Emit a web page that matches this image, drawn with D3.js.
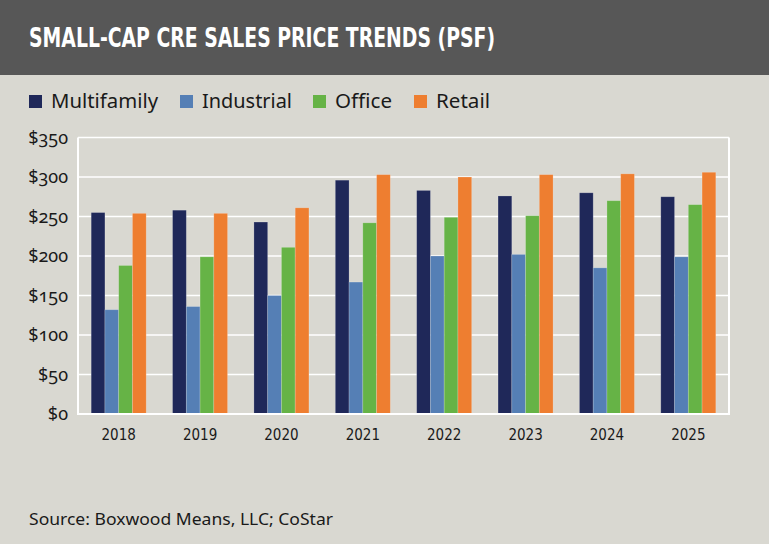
<!DOCTYPE html>
<html>
<head>
<meta charset="utf-8">
<script src="https://cdn.jsdelivr.net/npm/d3@7"></script>
<style>
  body { margin: 0; background: #d9d8d1; }
  svg { display: block; }
</style>
</head>
<body>
<script>
// ---- data ----
let years = ['2018', '2019', '2020', '2021', '2022', '2023', '2024', '2025'];
let seriesNames = ['Multifamily', 'Industrial', 'Office', 'Retail'];
let multifamily = [255, 258, 243, 296, 283, 276, 280, 275];
let industrial  = [132, 136, 150, 167, 200, 202, 185, 199];
let office      = [188, 199, 211, 242, 249, 251, 270, 265];
let retail      = [254, 254, 261, 303, 300, 303, 304, 306];
let yTicks = [0, 50, 100, 150, 200, 250, 300, 350];

let colors = ['#1f2859', '#557fb5', '#66b346', '#ee7e30'];

let w = 769;
let h = 544;

let svg = d3.select('body')
    .append('svg')
    .attr('width', w)
    .attr('height', h);

svg.append('rect')
    .attr('width', w)
    .attr('height', h)
    .attr('fill', '#d9d8d1');

// header band
svg.append('rect')
    .attr('width', w)
    .attr('height', 75)
    .attr('fill', '#575757');

svg.append('text')
    .text('SMALL-CAP CRE SALES PRICE TRENDS (PSF)')
    .attr('x', 29)
    .attr('y', 47)
    .attr('font-family', '"DejaVu Sans Condensed", "DejaVu Sans", sans-serif')
    .attr('font-weight', 'bold')
    .attr('font-size', '27px')
    .attr('textLength', 466)
    .attr('lengthAdjust', 'spacingAndGlyphs')
    .attr('fill', '#ffffff');

// legend
let legendX = [29, 180, 313, 414];
let legendW = [107, 90, 57, 54];
let legend = svg.selectAll('.legend')
    .data(seriesNames)
    .enter()
    .append('g')
    .attr('class', 'legend');

legend.append('rect')
    .attr('x', (d, i) => legendX[i])
    .attr('y', 95)
    .attr('width', 13)
    .attr('height', 13)
    .attr('fill', (d, i) => colors[i]);

legend.append('text')
    .text(d => d)
    .attr('x', (d, i) => legendX[i] + 22)
    .attr('y', 108)
    .attr('font-family', '"Noto Sans", sans-serif')
    .attr('font-size', '19px')
    .attr('textLength', (d, i) => legendW[i])
    .attr('lengthAdjust', 'spacingAndGlyphs')
    .attr('fill', '#1a1a1a');

// plot area ('top' is a window global, so prefixed names)
let plotLeft = 78, plotRight = 729, plotTop = 137.5, plotBottom = 414;

let xScale = d3.scaleBand()
    .domain(years)
    .range([plotLeft, plotRight])
    .paddingInner(0.324)
    .paddingOuter(0.162);

let xSub = d3.scaleBand()
    .domain(seriesNames)
    .range([0, xScale.bandwidth()]);

let yScale = d3.scaleLinear()
    .domain([0, 350])
    .range([plotBottom, plotTop]);

// white gridlines
svg.append('g')
    .selectAll('line')
    .data(yTicks)
    .enter()
    .append('line')
    .attr('x1', plotLeft)
    .attr('x2', plotRight)
    .attr('y1', d => yScale(d))
    .attr('y2', d => yScale(d))
    .attr('stroke', '#ffffff')
    .attr('stroke-width', 1.5);

// frame sides
svg.append('line')
    .attr('x1', plotLeft).attr('x2', plotLeft)
    .attr('y1', plotTop).attr('y2', plotBottom)
    .attr('stroke', '#ffffff').attr('stroke-width', 2);
svg.append('line')
    .attr('x1', plotRight).attr('x2', plotRight)
    .attr('y1', plotTop).attr('y2', plotBottom)
    .attr('stroke', '#ffffff').attr('stroke-width', 2);

// bars
let allSeries = [multifamily, industrial, office, retail];
let barData = [];
years.forEach(function(year, i) {
    seriesNames.forEach(function(name, j) {
        barData.push({ year: year, name: name, value: allSeries[j][i], idx: j });
    });
});

svg.append('g')
    .selectAll('rect')
    .data(barData)
    .enter()
    .append('rect')
    .attr('x', d => xScale(d.year) + xSub(d.name))
    .attr('y', d => yScale(d.value))
    .attr('width', xSub.bandwidth())
    .attr('height', d => plotBottom - yScale(d.value))
    .attr('fill', d => colors[d.idx])
    .attr('stroke', 'rgba(255,255,255,0.25)')
    .attr('stroke-width', 0.75);

// bottom line drawn over the bars
svg.append('line')
    .attr('x1', plotLeft - 1).attr('x2', plotRight + 1)
    .attr('y1', plotBottom).attr('y2', plotBottom)
    .attr('stroke', '#ffffff').attr('stroke-width', 2);

// y axis labels
let yAxis = d3.axisLeft(yScale)
    .tickValues(yTicks)
    .tickSize(0)
    .tickPadding(10)
    .tickFormat(d => '$' + d);

let yG = svg.append('g')
    .attr('transform', 'translate(' + plotLeft + ',0)')
    .call(yAxis);
yG.select('.domain').remove();
yG.selectAll('text')
    .attr('font-family', '"Noto Sans", sans-serif')
    .attr('font-size', '18px')
    .style('font-variant-numeric', 'oldstyle-nums')
    .attr('fill', '#1a1a1a');

// x axis labels
let xAxis = d3.axisBottom(xScale)
    .tickSize(0)
    .tickPadding(15);

let xG = svg.append('g')
    .attr('transform', 'translate(0,' + plotBottom + ')')
    .call(xAxis);
xG.select('.domain').remove();
xG.selectAll('text')
    .attr('font-family', '"DejaVu Sans Condensed", sans-serif')
    .attr('font-size', '15px')
    .attr('fill', '#1a1a1a');

// source note
svg.append('text')
    .text('Source: Boxwood Means, LLC; CoStar')
    .attr('x', 29)
    .attr('y', 525)
    .attr('font-family', '"Noto Sans", sans-serif')
    .attr('font-size', '16px')
    .attr('textLength', 304)
    .attr('lengthAdjust', 'spacingAndGlyphs')
    .attr('fill', '#1a1a1a');
</script>
</body>
</html>
